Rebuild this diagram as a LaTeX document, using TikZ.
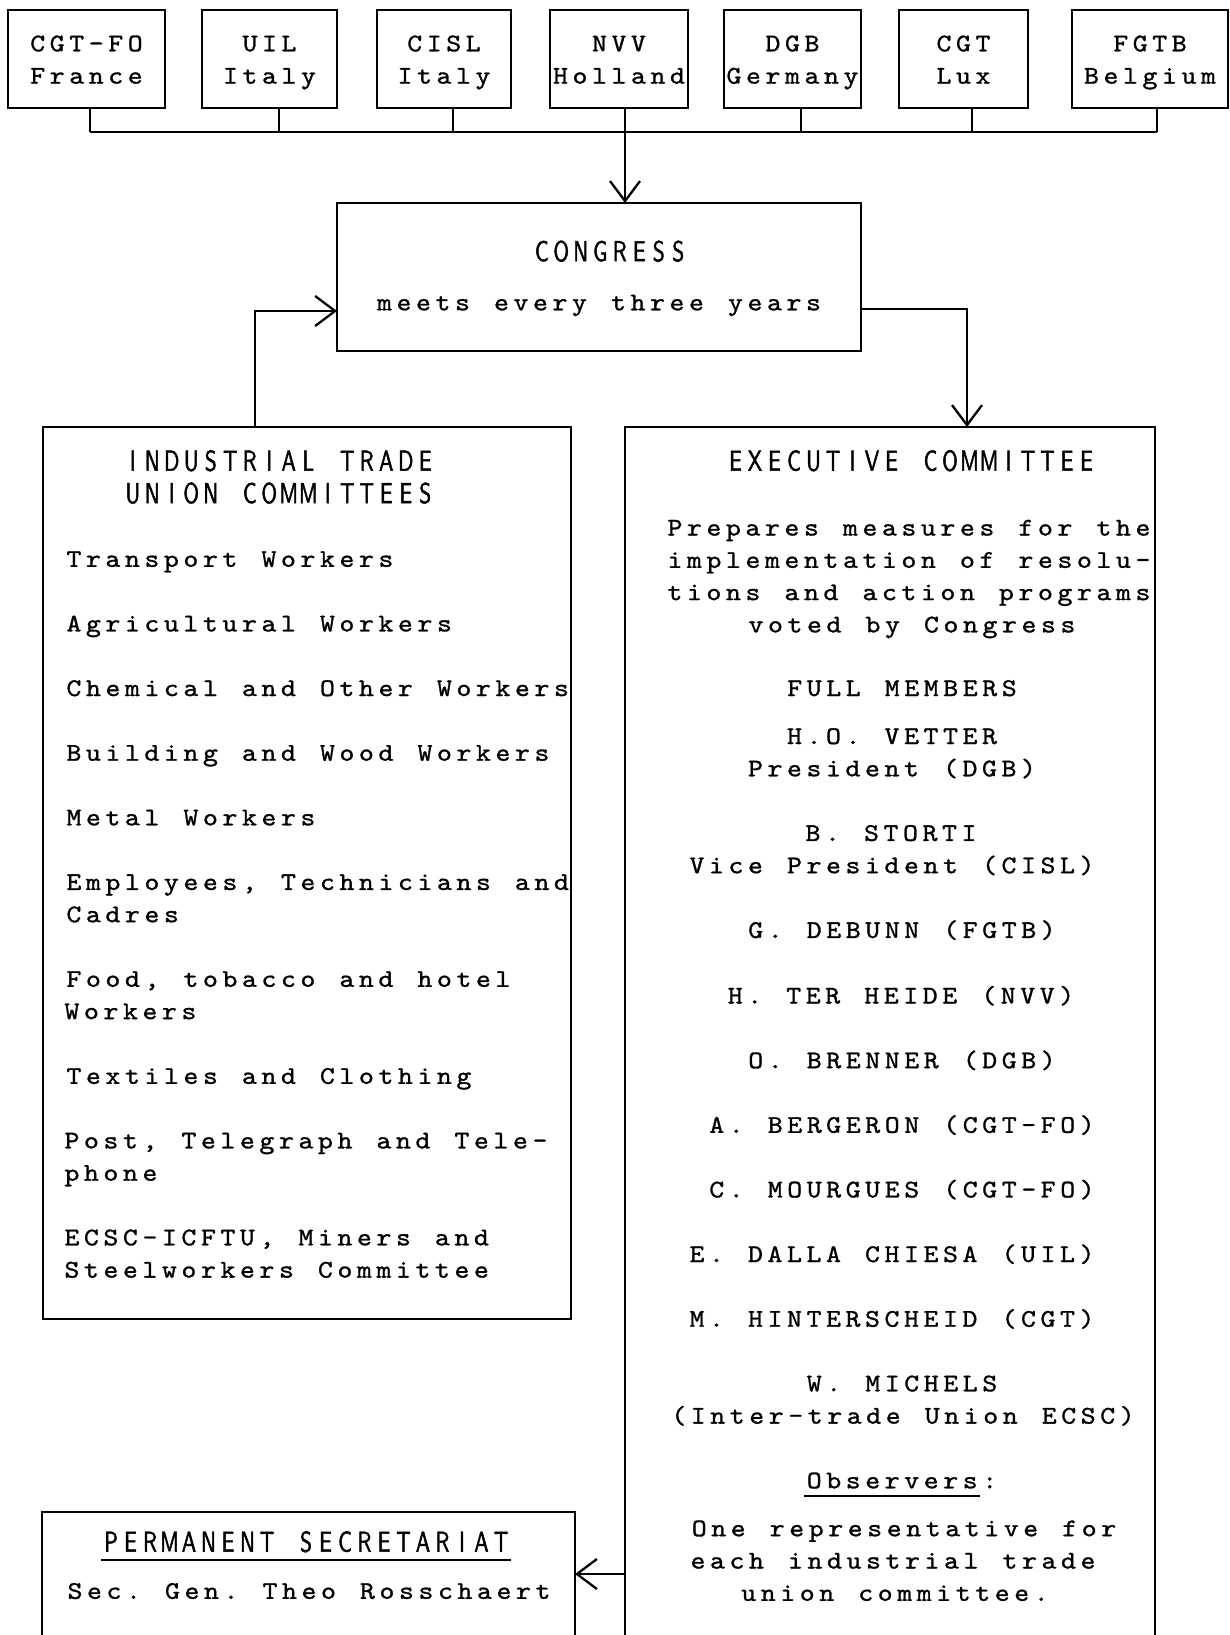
\documentclass[tikz,border=0pt]{standalone}
\usepackage{fontspec}
\usetikzlibrary{arrows.meta}
\newfontfamily\monofam{lmmono10-regular.otf}[FakeBold=1.1,FakeStretch=1.12]
\newfontfamily\sansfam{lmsans10-regular.otf}[FakeBold=1.6,FakeStretch=0.74]
\ExplSyntaxOn
\NewDocumentCommand\tw{m}{\str_map_inline:nn{#1}{\makebox[19.5pt]{##1}}}
\NewDocumentCommand\sw{m}{\str_map_inline:nn{#1}{\makebox[19.5pt]{##1}}}
\ExplSyntaxOff
\newcommand\monof{\monofam\fontsize{25.4pt}{32.3pt}\selectfont}
\newcommand\sansf{\sansfam\fontsize{28.8pt}{32.3pt}\selectfont}
\newcommand\topstrut{\rule{0pt}{26.6pt}}
\tikzset{
  box/.style={draw, line width=2.3pt, rectangle, inner sep=0pt, outer sep=0pt, anchor=north west},
  topbox/.style={box, minimum height=98pt, font=\monof, align=center},
  ln/.style={line width=2.3pt},
  arr/.style={line width=2.3pt, -{Straight Barb[length=20pt,width=30pt]}},
  txt/.style={inner sep=0pt, anchor=base, font=\monof},
  txtl/.style={inner sep=0pt, anchor=base west, font=\monof},
  hd/.style={inner sep=0pt, anchor=base, font=\sansf},
}
\begin{document}
\begin{tikzpicture}[x=1pt,y=-1pt]
\useasboundingbox (0,0) rectangle (1230,1635);
\fill[white] (0,0) rectangle (1230,1635);
\clip (0,0) rectangle (1230,1635);

% top member boxes
\node[topbox, minimum width=157pt] (cgtfo) at (8,10) {\topstrut\tw{CGT-FO}\\\strut\tw{France}};
\node[topbox, minimum width=135pt] (uil) at (202,10) {\topstrut\tw{UIL}\\\strut\tw{Italy}};
\node[topbox, minimum width=134pt] (cisl) at (377,10) {\topstrut\tw{CISL}\\\strut\tw{Italy}};
\node[topbox, minimum width=138pt] (nvv) at (550,10) {\topstrut\tw{NVV}\\\strut\tw{Holland}};
\node[topbox, minimum width=137pt] (dgb) at (724,10) {\topstrut\tw{DGB}\\\strut\tw{Germany}};
\node[topbox, minimum width=129pt] (cgt) at (899,10) {\topstrut\tw{CGT}\\\strut\tw{Lux}};
\node[topbox, minimum width=156pt] (fgtb) at (1072,10) {\topstrut\tw{FGTB}\\\strut\tw{Belgium}};

% main boxes
\node[box, minimum width=524pt, minimum height=148pt] (congress) at (337,203) {};
\node[box, minimum width=528pt, minimum height=892pt] (ind) at (43,427) {};
\node[box, minimum width=530pt, minimum height=1260pt] (exec) at (625,427) {};
\node[box, minimum width=533pt, minimum height=200pt] (sec) at (42,1512) {};

% bus connecting member unions
\coordinate (b1) at (90,132);
\coordinate (b2) at (279,132);
\coordinate (b3) at (453,132);
\coordinate (b4) at (625,132);
\coordinate (b5) at (801,132);
\coordinate (b6) at (972,132);
\coordinate (b7) at (1157,132);
\draw[ln] (b1) -- (b7);
\draw[ln] (cgtfo.south -| b1) -- (b1);
\draw[ln] (uil.south -| b2) -- (b2);
\draw[ln] (cisl.south -| b3) -- (b3);
\draw[ln] (dgb.south -| b5) -- (b5);
\draw[ln] (cgt.south -| b6) -- (b6);
\draw[ln] (fgtb.south -| b7) -- (b7);
\draw[arr] (nvv.south -| b4) -- (congress.north -| b4);

% connectors
\coordinate (lb) at (255,311);
\coordinate (rb) at (967,309);
\coordinate (sb) at (600,1574);
\draw[arr] (ind.north -| lb) |- (congress.west |- lb);
\draw[arr] (congress.east |- rb) -| (exec.north -| rb);
\draw[arr] (exec.west |- sb) -- (sec.east |- sb);

% congress text
\node[hd] (congt) at (610,261.2) {\sw{CONGRESS}};
\node[txt] (congm) at (599,310.3) {\tw{meets every three years}};

% industrial committees
\node[hd] (indh1) at (279,470.7) {\sw{INDUSTRIAL TRADE}};
\node[hd] (indh2) at (279,503.1) {\sw{UNION COMMITTEES}};
\node[txtl] (i1) at (64,566.8) {\tw{Transport Workers}};
\node[txtl] (i2) at (64,631.4) {\tw{Agricultural Workers}};
\node[txtl] (i3) at (64,696.0) {\tw{Chemical and Other Workers}};
\node[txtl] (i4) at (64,760.7) {\tw{Building and Wood Workers}};
\node[txtl] (i5) at (64,825.3) {\tw{Metal Workers}};
\node[txtl] (i6a) at (64,889.9) {\tw{Employees, Technicians and}};
\node[txtl] (i6b) at (64,922.2) {\tw{Cadres}};
\node[txtl] (i7a) at (64,986.8) {\tw{Food, tobacco and hotel}};
\node[txtl] (i7b) at (62,1019.1) {\tw{Workers}};
\node[txtl] (i8) at (64,1083.8) {\tw{Textiles and Clothing}};
\node[txtl] (i9a) at (62,1148.4) {\tw{Post, Telegraph and Tele-}};
\node[txtl] (i9b) at (62,1180.7) {\tw{phone}};
\node[txtl] (i10a) at (62,1245.3) {\tw{ECSC-ICFTU, Miners and}};
\node[txtl] (i10b) at (62,1277.6) {\tw{Steelworkers Committee}};

% executive committee
\node[hd] (exh) at (911,470.7) {\sw{EXECUTIVE COMMITTEE}};
\node[txtl] (e1) at (665,535.5) {\tw{Prepares measures for the}};
\node[txtl] (e2) at (665,567.8) {\tw{implementation of resolu-}};
\node[txtl] (e3) at (665,600.1) {\tw{tions and action programs}};
\node[txt] (e4) at (912,632.4) {\tw{voted by Congress}};
\node[txt] (fm) at (902,696.0) {\tw{FULL MEMBERS}};
\node[txt] (m1a) at (892,744.0) {\tw{H.O. VETTER}};
\node[txt] (m1b) at (892,776.3) {\tw{President (DGB)}};
\node[txt] (m2a) at (891,840.9) {\tw{B. STORTI}};
\node[txt] (m2b) at (892,873.2) {\tw{Vice President (CISL)}};
\node[txt] (m3) at (902,937.9) {\tw{G. DEBUNN (FGTB)}};
\node[txt] (m4) at (901,1003.5) {\tw{H. TER HEIDE (NVV)}};
\node[txt] (m5) at (902,1068.2) {\tw{O. BRENNER (DGB)}};
\node[txt] (m6) at (902,1132.8) {\tw{A. BERGERON (CGT-FO)}};
\node[txt] (m7) at (902,1197.4) {\tw{C. MOURGUES (CGT-FO)}};
\node[txt] (m8) at (892,1262.0) {\tw{E. DALLA CHIESA (UIL)}};
\node[txt] (m9) at (892,1326.7) {\tw{M. HINTERSCHEID (CGT)}};
\node[txt] (m10a) at (902,1391.3) {\tw{W. MICHELS}};
\node[txt] (m10b) at (903,1423.6) {\tw{(Inter-trade Union ECSC)}};
\node[txt] (obs) at (902,1488.3) {\tw{Observers:}};
\draw[line width=2pt] ([yshift=-8pt]obs.base west) -- ++(175.5pt,0pt);
\node[txt] (o1) at (904,1536.2) {\tw{One representative for}};
\node[txt] (o2) at (893,1568.5) {\tw{each industrial trade}};
\node[txt] (o3) at (895,1600.8) {\tw{union committee.}};

% permanent secretariat
\node[hd] (psh) at (306,1551.7) {\sw{PERMANENT SECRETARIAT}};
\draw[line width=2pt] ([yshift=-8pt]psh.base west) -- ([yshift=-8pt]psh.base east);
\node[txt] (psg) at (309,1598.8) {\tw{Sec. Gen. Theo Rosschaert}};
\end{tikzpicture}
\end{document}
